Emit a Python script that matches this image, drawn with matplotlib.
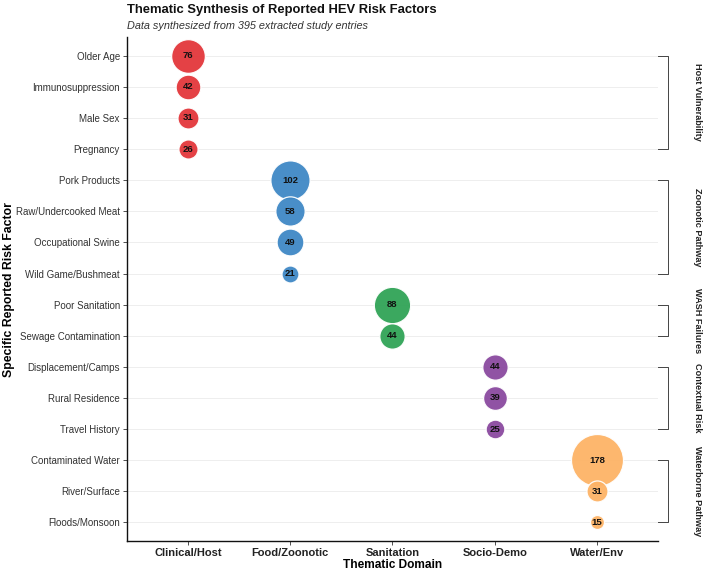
import matplotlib
matplotlib.use("Agg")
import matplotlib.pyplot as plt
import numpy as np

plt.rcParams['font.family'] = ['Liberation Sans', 'DejaVu Sans']

domains = ["Clinical/Host", "Food/Zoonotic", "Sanitation", "Socio-Demo", "Water/Env"]
domain_colors = ["#E3373B", "#3F88C5", "#30A356", "#8A4A9F", "#FDB366"]

factors = ["Older Age", "Immunosuppression", "Male Sex", "Pregnancy",
           "Pork Products", "Raw/Undercooked Meat", "Occupational Swine", "Wild Game/Bushmeat",
           "Poor Sanitation", "Sewage Contamination",
           "Displacement/Camps", "Rural Residence", "Travel History",
           "Contaminated Water", "River/Surface", "Floods/Monsoon"]
factor_domain = ["Clinical/Host"] * 4 + ["Food/Zoonotic"] * 4 + ["Sanitation"] * 2 + \
                ["Socio-Demo"] * 3 + ["Water/Env"] * 3
counts = [76, 42, 31, 26, 102, 58, 49, 21, 88, 44, 44, 39, 25, 178, 31, 15]

groups = ["Host Vulnerability", "Zoonotic Pathway", "WASH Failures",
          "Contextual Risk", "Waterborne Pathway"]
group_first = ["Older Age", "Pork Products", "Poor Sanitation", "Displacement/Camps", "Contaminated Water"]
group_last = ["Pregnancy", "Wild Game/Bushmeat", "Sewage Contamination", "Travel History", "Floods/Monsoon"]

fig = plt.figure(figsize=(7.04, 5.71), dpi=100)
ax = fig.add_axes([0.180, 0.0525, 0.755, 0.8825])

ypos = {f: i for i, f in enumerate(factors)}
xpos = {d: i for i, d in enumerate(domains)}

# bubble area (pt^2) proportional to count
def size_of(v):
    return max(7.98 * v - 18, 20)

for f, d, c in zip(factors, factor_domain, counts):
    x = xpos[d]
    y = ypos[f]
    ax.scatter([x], [y], s=size_of(c), color=domain_colors[xpos[d]], alpha=0.95,
               edgecolors="white", linewidths=0.9, zorder=3)
    ax.text(x, y, str(c), ha="center", va="center", fontsize=6.8,
            fontweight="bold", color="#111111", zorder=4)

ax.set_xlim(-0.6, len(domains) - 0.4)
ax.set_ylim(len(factors) - 0.4, -0.6)
ax.set_xticks(range(len(domains)))
ax.set_xticklabels(domains, fontsize=8, fontweight="bold", color="#222222")
ax.set_yticks(range(len(factors)))
ax.set_yticklabels(factors, fontsize=7, color="#333333")
ax.tick_params(axis="both", length=3, width=0.6, color="#333333", pad=2)

ax.grid(axis="y", color="#EBEBEB", linewidth=0.6, zorder=0)
ax.grid(axis="x", visible=False)
ax.set_axisbelow(True)
for s in ["top", "right"]:
    ax.spines[s].set_visible(False)
for s in ["left", "bottom"]:
    ax.spines[s].set_linewidth(1.0)
    ax.spines[s].set_color("#111111")

ax.set_xlabel("Thematic Domain", fontsize=8.6, fontweight="bold")
ax.set_ylabel("Specific Reported Risk Factor", fontsize=8.8, fontweight="bold")
ax.xaxis.set_label_coords(0.5, -0.0476)
ax.xaxis.label.set_va("center")
ax.yaxis.set_label_coords(-0.222, 0.5)
ax.yaxis.label.set_va("center")

# group brackets on the right
trans = ax.get_yaxis_transform()
bx0, bx1 = 1.0, 1.019
for g, a, b in zip(groups, group_first, group_last):
    y0, y1 = ypos[a], ypos[b]
    ax.plot([bx0, bx1, bx1, bx0], [y0, y0, y1, y1], transform=trans, color="#444444",
            linewidth=0.7, clip_on=False)
    ax.text(1.073, (y0 + y1) / 2, g, transform=trans, rotation=-90, ha="center",
            va="center", fontsize=6.6, fontweight="bold", color="#222222")

fig.text(0.180, 0.983, "Thematic Synthesis of Reported HEV Risk Factors", fontsize=9.4,
         fontweight="bold", ha="left", va="center", color="#111111")
fig.text(0.180, 0.955, "Data synthesized from 395 extracted study entries", fontsize=7.8,
         style="italic", ha="left", va="center", color="#333333")

fig.savefig("out.png", dpi=100)
